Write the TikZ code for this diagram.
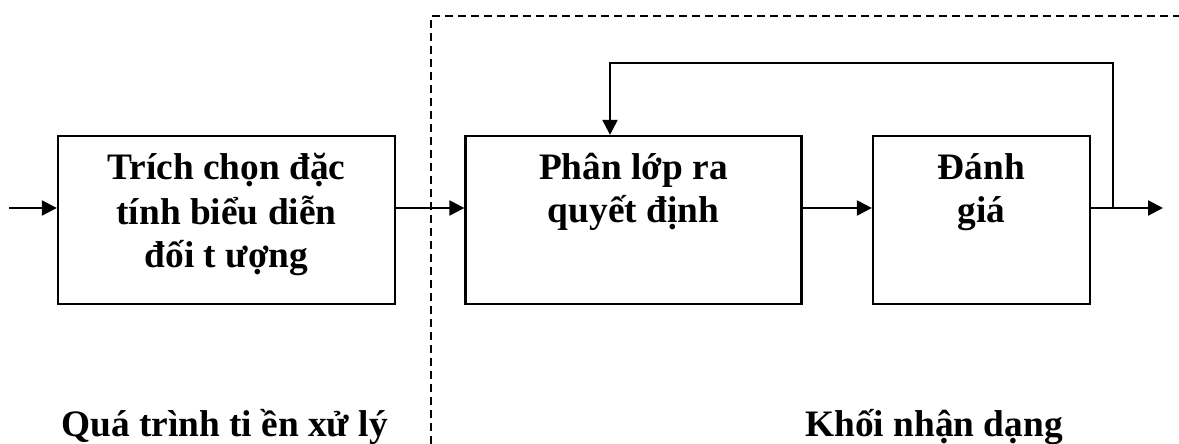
\documentclass[tikz,border=0pt]{standalone}
\usepackage{fontspec}
\setmainfont{Liberation Serif}
\usetikzlibrary{arrows.meta}
\begin{document}
\begin{tikzpicture}[x=1bp,y=-1bp,
  blockbox/.style={draw,line width=2.3bp,minimum width=#1,inner sep=0pt,minimum height=168bp},
  lbl/.style={font=\bfseries\fontsize{37.5}{44}\selectfont,anchor=base,inner sep=0pt},
  arr/.style={line width=2.3bp,-{Triangle[length=15bp,width=15bp]}},
  sep/.style={line width=1.3bp,dash pattern=on 8bp off 5bp}]
\useasboundingbox (0,0) rectangle (1179,444);
% boxes
\node[blockbox=337bp] (b1) at (226.5,220) {};
\node[blockbox=336bp] (b2) at (633.5,220) {};
\node[blockbox=217bp] (b3) at (981.5,220) {};
% texts
\node[lbl] (t1a) at (226.5,180) {Trích chọn đặc};
\node[lbl] (t1b) at (226.5,225) {tính biểu diễn};
\node[lbl] (t1c) at (226.5,268) {đối t ượng};
\node[lbl] (t2a) at (633.5,180) {Phân lớp ra};
\node[lbl] (t2b) at (633.5,223) {quyết định};
\node[lbl] (t3a) at (981.5,180) {Đánh};
\node[lbl] (t3b) at (981.5,223) {giá};
\node[lbl] (q) at (224.5,437) {Quá trình ti ền xử lý};
\node[lbl] (k) at (934,437) {Khối nhận dạng};
% separator
\coordinate (dtop) at (431,16);
\coordinate (dbot) at (431,444);
\coordinate (dright) at (1179,16);
\draw[sep] (dbot) -- (dtop) -- (dright);
% connectors
\coordinate (in) at (9,208);
\coordinate (split) at (1113,208);
\coordinate (out) at (1163,208);
\coordinate (fb) at (610,63);
\draw[arr] (in) -- (b1.west |- in);
\draw[arr] (b1.east |- in) -- (b2.west |- in);
\draw[arr] (b2.east |- in) -- (b3.west |- in);
\draw[arr] (b3.east |- in) -- (out);
\draw[arr] (split) |- (fb) -- (fb |- b2.north);
\end{tikzpicture}
\end{document}
